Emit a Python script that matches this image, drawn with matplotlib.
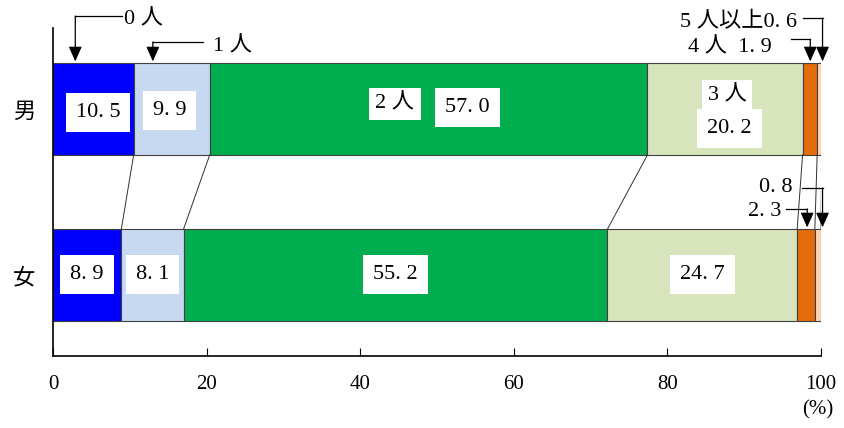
import matplotlib.pyplot as plt
import numpy as np

# %% data
groups = ['男', '女']
categories = ['0人', '1人', '2人', '3人', '4人', '5人以上']
male = [10.5, 9.9, 57.0, 20.2, 1.9, 0.6]
female = [8.9, 8.1, 55.2, 24.7, 2.3, 0.8]
colors = ['#0000FF', '#C6D9F1', '#00AD4F', '#D8E4BC', '#E46C0A', '#FCD5B5']

SERIF = ['Liberation Serif', 'Noto Sans CJK JP']
CJK = ['Noto Sans CJK JP', 'DejaVu Sans']


def fmt(v):
    # wide-looking decimal point like the original
    return f'{v:.1f}'.replace('.', '. ')


# %% figure
fig = plt.figure(figsize=(8.44, 4.28), dpi=100)
ax = fig.add_axes([53 / 844, 1 - 356 / 428, 768 / 844, 328 / 428])

h = 0.554
vals = [male, female]
for yi, row in enumerate(vals):
    left = 0
    for v, c in zip(row, colors):
        ax.barh(yi, v, left=left, height=h, color=c, edgecolor='#404040', linewidth=0.8)
        left += v

cum_m = np.cumsum(male)
cum_f = np.cumsum(female)
# connecting lines between the two bars
for a, b in zip(cum_m, cum_f):
    ax.plot([a, b], [h / 2, 1 - h / 2], color='#303030', lw=0.7)

ax.set_xlim(0, 100)
ax.set_ylim(1 + 0.488, -0.488)
ax.set_yticks([0, 1])
ax.set_yticklabels(groups, family=CJK, fontsize=16)
ax.tick_params(axis='y', length=0, pad=13)
ax.set_xticks(np.arange(0, 101, 20))
ax.set_xticklabels([str(t) for t in range(0, 101, 20)], family=SERIF, fontsize=15)
ax.tick_params(axis='x', direction='in', length=6, pad=14)
for s in ['top', 'right']:
    ax.spines[s].set_visible(False)
ax.spines['left'].set_linewidth(1.2)
ax.spines['bottom'].set_linewidth(1.2)

ax.text(99.6, 1.81, '(%)', family=SERIF, fontsize=15, ha='center', va='center',
        clip_on=False)

box = dict(boxstyle='square,pad=0.45', facecolor='white', edgecolor='none')

# inside labels
starts_m = cum_m - np.array(male)
starts_f = cum_f - np.array(female)
ax.text(starts_m[0] + male[0] / 2 + 0.6, 0.02, fmt(male[0]), family=SERIF, fontsize=16,
        ha='center', va='center', bbox=box)
ax.text(starts_m[1] + male[1] / 2 - 0.3, 0.01, fmt(male[1]), family=SERIF, fontsize=16,
        ha='center', va='center', bbox=box)
ax.text(44.5, -0.03, '2 人', family=SERIF, fontsize=16, ha='center', va='center',
        bbox=dict(boxstyle='square,pad=0.3', facecolor='white', edgecolor='none'))
ax.text(54.0, -0.012, fmt(male[2]), family=SERIF, fontsize=16, ha='center', va='center',
        bbox=box)
ax.text(87.8, -0.08, '3 人', family=SERIF, fontsize=16, ha='center', va='center',
        bbox=dict(boxstyle='square,pad=0.25', facecolor='white', edgecolor='none'))
ax.text(88.1, 0.12, fmt(male[3]), family=SERIF, fontsize=16, ha='center', va='center',
        bbox=box)
for i in range(4):
    ax.text(starts_f[i] + female[i] / 2, 1.0, fmt(female[i]), family=SERIF, fontsize=16,
            ha='center', va='center', bbox=box)


# %% callouts with elbow arrows
def callout(text, tx, ty, ha, hx, hy, tipx, tipy):
    ax.plot([hx, tipx], [hy, hy], color='black', lw=0.9, clip_on=False)
    ax.annotate('', xy=(tipx, tipy), xytext=(tipx, hy),
                arrowprops=dict(arrowstyle='-|>,head_length=0.9,head_width=0.4',
                                color='black', lw=0.9, shrinkA=0, shrinkB=0),
                annotation_clip=False)
    ax.text(tx, ty, text, family=SERIF, fontsize=16, ha=ha, va='center', clip_on=False)


top_m = -h / 2 - 0.01
top_f = 1 - h / 2 - 0.01
callout('0 人', 9.2, -0.536, 'left', 9.0, -0.56, 2.9, top_m)
callout('1 人', 20.8, -0.373, 'left', 19.5, -0.404, 13.0, top_m)
callout('5 人以上0. 6', 96.9, -0.524, 'right', 97.7, -0.548, 100.2, top_m)
callout('4 人  1. 9', 93.6, -0.367, 'right', 96.1, -0.42, 98.6, top_m)
callout(fmt(female[5]), 96.35, 0.47, 'right', 97.5, 0.476, 100.2, top_f)
callout(fmt(female[4]), 94.9, 0.62, 'right', 95.4, 0.602, 98.2, top_f)

fig.savefig('out.png', dpi=100)
